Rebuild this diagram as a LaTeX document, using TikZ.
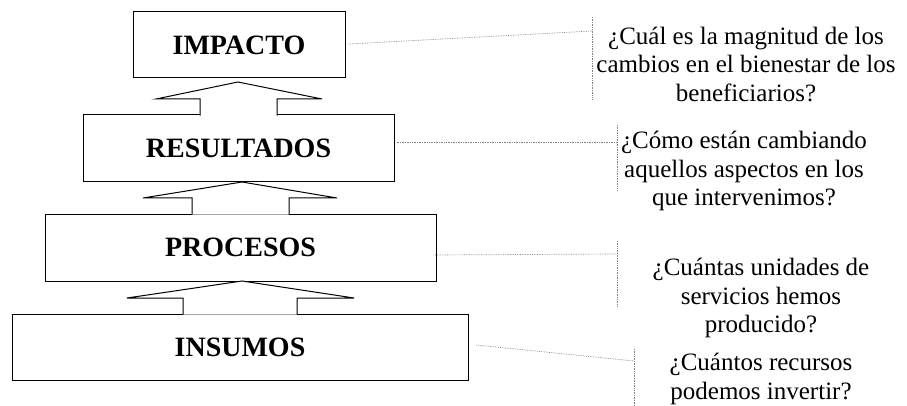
\documentclass[tikz,border=0pt]{standalone}
\usepackage{fontspec}
\setmainfont{Liberation Serif}
\definecolor{leadergray}{RGB}{130,130,130}
\usetikzlibrary{calc,positioning}
% apex x, apex y, wing y, left tip, stem left, stem right, right tip, stem foot
\newcommand{\flecha}[8]{\filldraw[fill=white, draw=black, line width=1pt, line join=miter] (#5,#8) -- (#5,#3) -- (#4,#3) -- (#1,#2) -- (#7,#3) -- (#6,#3) -- (#6,#8);}

\begin{document}
\begin{tikzpicture}[x=1pt, y=-1pt,
    nivel/.style={draw, line width=1pt, inner sep=0pt, font=\fontsize{28}{30}\selectfont\bfseries},
    texto/.style={align=center, inner sep=0pt, font=\fontsize{25}{28.5}\selectfont},
    guia/.style={draw=leadergray, densely dotted, line width=0.7pt}]
    \useasboundingbox (0,0) rectangle (907,406);
    % niveles
    \node[nivel, minimum width=212pt, minimum height=66pt] (impacto) at (239,45) {IMPACTO};
    \node[nivel, minimum width=311pt, minimum height=67pt] (resultados) at (238.5,148.5) {RESULTADOS};
    \node[nivel, minimum width=391pt, minimum height=67pt] (procesos) at (240.5,247.5) {PROCESOS};
    \node[nivel, minimum width=456pt, minimum height=66pt] (insumos) at (240,347) {INSUMOS};
    % flechas
    \flecha{238}{82}{99}{156}{200}{277}{322}{115.6}
    \flecha{242}{182}{198}{143}{192}{289}{337}{214.6}
    \flecha{242}{281}{298}{127}{183}{297}{354}{314.6}
    % preguntas
    \node[texto] (q1) at (746,64) {¿Cuál es la magnitud de los\\cambios en el bienestar de los\\beneficiarios?};
    \node[texto] (q2) at (744,171) {¿Cómo están cambiando\\aquellos aspectos en los\\que intervenimos?};
    \node[texto] (q3) at (761,298) {¿Cuántas unidades de\\servicios hemos\\producido?};
    \node[texto] (q4) at (761,379) {¿Cuántos recursos\\podemos invertir?};
    % lineas guia
    \coordinate (g1) at (592,31);
    \coordinate (g2) at (617,142);
    \coordinate (g3) at (617,254);
    \coordinate (g4) at (634,361);
    \draw[guia] ([xshift=3pt, yshift=1pt]impacto.east) -- (g1);
    \draw[guia] (g1 |- 0,17) -- (g1 |- 0,99);
    \draw[guia] ([xshift=2pt, yshift=6.5pt]resultados.east) -- (g2);
    \draw[guia] (g2 |- 0,125) -- (g2 |- 0,191);
    \draw[guia] ([xshift=-3pt, yshift=-7.5pt]procesos.east) -- (g3);
    \draw[guia] (g3 |- 0,241) -- (g3 |- 0,307);
    \draw[guia] ([xshift=8pt, yshift=2pt]insumos.east) -- (g4);
    \draw[guia] (g4 |- 0,349) -- (g4 |- 0,406);
\end{tikzpicture}
\end{document}
